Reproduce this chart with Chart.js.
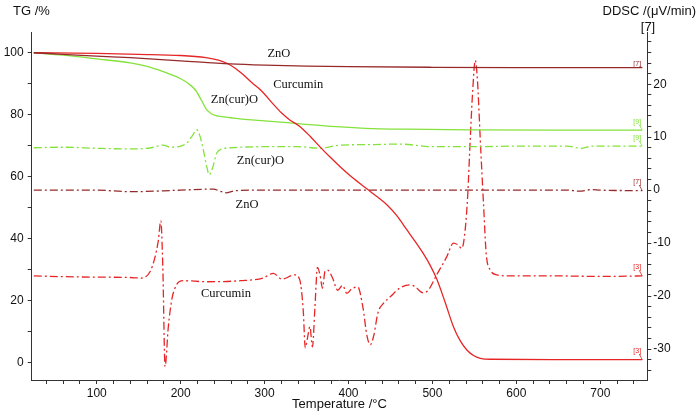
<!DOCTYPE html>
<html>
<head>
<meta charset="utf-8">
<script src="https://cdn.jsdelivr.net/npm/chart.js@4"></script>
<style>
  html, body { margin: 0; padding: 0; background: #fff; }
  #wrap { width: 700px; height: 415px; }
</style>
</head>
<body>
<div id="wrap"><canvas id="c" width="700" height="415"></canvas></div>
<script>
// ---- Data (temperature °C, value) ----
const tgZnO = [[25,100],[60,99.5],[100,98.9],[140,98.4],[200,97.4],[259,96.4],[300,96.0],[350,95.7],[400,95.5],[500,95.3],[600,95.2],[750,95.2]];
const tgCurcumin = [[25,100],[100,99.8],[150,99.5],[200,99.1],[230,98.4],[245,97.6],[255,96.6],[265,95.0],[275,92.8],[285,90.3],[297,87.5],[310,83.5],[320,80.6],[330,78.3],[342,76.2],[355,72.8],[366,69.6],[378,66.3],[390,63.2],[405,59.6],[421,56.2],[435,53.3],[446,50.8],[458,47.2],[469,43.0],[480,38.8],[489,35.2],[497,31.5],[505,27.0],[515,19.5],[525,11.5],[533,7.0],[541,4.0],[549,2.2],[557,1.3],[570,1.0],[650,0.9],[750,0.9]];
const tgZnCurO = [[25,100],[60,99.2],[100,98.0],[140,96.7],[160,95.6],[175,94.3],[190,92.8],[200,91.6],[210,89.9],[218,87.8],[225,84.5],[231,81.6],[237,80.2],[245,79.5],[260,79.0],[280,78.4],[300,78.0],[340,77.1],[380,76.2],[420,75.6],[470,75.3],[550,75.1],[650,75.0],[750,75.0]];
const ddscZnCurO = [[25,8.0],[60,8.1],[100,7.9],[130,7.8],[150,7.8],[165,8.0],[179,8.5],[188,8.1],[200,8.3],[208,9.0],[214,10.3],[219,11.4],[223,10.2],[227,7.6],[231,4.5],[234,2.9],[238,4.2],[243,7.0],[250,7.8],[260,8.0],[300,8.2],[340,8.2],[366,7.9],[390,8.5],[430,8.6],[461,8.7],[500,8.2],[550,8.2],[600,8.3],[660,8.3],[678,7.9],[690,8.3],[750,8.3]];
const ddscZnO = [[25,0],[100,0],[140,-0.3],[200,0],[239,0.2],[247,-0.2],[255,-0.5],[265,-0.1],[300,0],[400,0],[500,0],[600,0],[660,0],[675,-0.2],[690,0.1],[700,0],[750,-0.1]];
const ddscCurcumin = [[25,-16.2],[80,-16.4],[140,-16.5],[152,-16.6],[163.5,-15.4],[169.5,-12.6],[173.5,-9.4],[176.3,-5.8],[178.7,-14.4],[181.4,-33.3],[185.3,-25.8],[189.4,-20.7],[195,-17.9],[203,-17.1],[231,-17.3],[271,-17.1],[298,-16.6],[310.5,-15.7],[320.5,-16.8],[336,-16.0],[342,-17.0],[346,-22.6],[348.5,-29.8],[351,-28],[354,-25.8],[357,-29.6],[360,-22],[363,-14.6],[366,-16],[369,-18.5],[372,-15.3],[375,-15.1],[381,-16.6],[387,-18.9],[393,-18.0],[398,-19.5],[404,-18.6],[411,-18.3],[417,-22],[422,-27.5],[426,-29.2],[430,-27.5],[435,-23.2],[442,-21.3],[450,-20.1],[461,-18.5],[473,-17.9],[479,-18.2],[489,-19.4],[495,-18.9],[505,-16],[517,-12.6],[525,-10],[530,-10.3],[535,-11],[539,-7.5],[542,-1],[545,9.5],[548,18.9],[551,24.5],[553.6,20.8],[557,9.5],[561,-3.1],[564,-11.9],[569,-15.1],[577,-16],[590,-16.2],[650,-16.2],[700,-16.3],[750,-16.2]];

// ---- Tick values ----
const xTicks = []; for (let v = 40; v <= 740; v += 20) xTicks.push(v);
const yLeftTicks = []; for (let v = 0; v <= 100; v += 10) yLeftTicks.push(v);
const yRightTicks = []; for (let v = -34; v <= 28; v += 2) yRightTicks.push(v);

// ---- Text annotations (anchored in data space) ----
const curveLabels = [
  {text:'ZnO', t:317, v:99.8, axis:'y'},
  {text:'Curcumin', t:340, v:89.6, axis:'y'},
  {text:'Zn(cur)O', t:264, v:84.7, axis:'y'},
  {text:'Zn(cur)O', t:295, v:5.6, axis:'y2'},
  {text:'ZnO', t:279, v:-2.8, axis:'y2'},
  {text:'Curcumin', t:254, v:-19.5, axis:'y2'}
];
const endTags = ['[7]','[3]','[9]','[9]','[7]','[3]'];

const cZnO = '#962a2a', cCur = '#e62626', cGreen = '#84e23c';
const dashDot = [8,3,2,3];

const toXY = arr => arr.map(p => ({x:p[0], y:p[1]}));
function ds(data, color, axis, dashed) {
  return {data: toXY(data), borderColor: color, yAxisID: axis, borderWidth: 1.3,
          borderDash: dashed ? dashDot : [], pointRadius: 0, fill: false,
          cubicInterpolationMode: 'monotone'};
}

const labelPlugin = {
  id: 'labels',
  afterDraw(chart) {
    const ctx = chart.ctx, sx = chart.scales.x;
    ctx.save();
    ctx.fillStyle = '#111';
    ctx.font = '13px "Liberation Sans", Arial, sans-serif';
    ctx.textBaseline = 'middle';
    ctx.textAlign = 'left';
    ctx.fillText('TG /%', 13, 11);
    ctx.textAlign = 'right';
    ctx.fillText('DDSC /(\u03BCV/min)', 696, 11);
    ctx.textAlign = 'center';
    ctx.fillText('[7]', 648, 27);
    ctx.fillText('Temperature /\u00B0C', (chart.chartArea.left + chart.chartArea.right) / 2, 404);
    ctx.font = '12.5px "Liberation Serif", "Times New Roman", serif';
    curveLabels.forEach(l => {
      ctx.fillText(l.text, sx.getPixelForValue(l.t), chart.scales[l.axis].getPixelForValue(l.v));
    });
    ctx.font = '7px "Liberation Sans", Arial, sans-serif';
    chart.data.datasets.forEach((d, i) => {
      const meta = chart.getDatasetMeta(i);
      const last = meta.data[meta.data.length - 1];
      const off = i === 0 ? 4 : 8.5;
      ctx.fillStyle = d.borderColor;
      ctx.fillText(endTags[i], last.x - 5, last.y - off);
      ctx.strokeStyle = d.borderColor;
      ctx.lineWidth = 0.8;
      ctx.beginPath();
      ctx.moveTo(last.x - 3, last.y - off + 3);
      ctx.lineTo(last.x, last.y);
      ctx.stroke();
    });
    ctx.restore();
  }
};

const tickFont = {family: '"Liberation Sans", Arial, sans-serif', size: 12};

new Chart(document.getElementById('c'), {
  type: 'line',
  data: { datasets: [
    ds(tgZnO, cZnO, 'y', false),
    ds(tgCurcumin, cCur, 'y', false),
    ds(tgZnCurO, cGreen, 'y', false),
    ds(ddscZnCurO, cGreen, 'y2', true),
    ds(ddscZnO, cZnO, 'y2', true),
    ds(ddscCurcumin, cCur, 'y2', true)
  ]},
  options: {
    responsive: false, animation: false, devicePixelRatio: 1,
    layout: { padding: { top: 32.3, left: 0, right: 0, bottom: 0 } },
    plugins: { legend: { display: false }, tooltip: { enabled: false } },
    scales: {
      x: {
        type: 'linear', min: 22.5, max: 756,
        afterBuildTicks: s => { s.ticks = xTicks.map(v => ({value: v})); },
        afterFit: s => { s.height = 35; },
        ticks: { autoSkip: false, maxRotation: 0, padding: 2, color: '#111', font: tickFont,
                 callback: v => (v % 100 === 0 ? String(v) : '') },
        grid: { drawOnChartArea: false, drawTicks: true, tickLength: 4, color: '#333' },
        border: { display: true, color: '#333', width: 1 }
      },
      y: {
        position: 'left', min: -5.7, max: 106.6,
        afterBuildTicks: s => { s.ticks = yLeftTicks.map(v => ({value: v})); },
        afterFit: s => { s.width = 31.7; },
        ticks: { autoSkip: false, padding: 4, color: '#111', font: tickFont,
                 callback: v => (v % 20 === 0 ? String(v) : '') },
        grid: { drawOnChartArea: false, drawTicks: true, tickLength: 4, color: '#333' },
        border: { display: true, color: '#333', width: 1 }
      },
      y2: {
        position: 'right', min: -35.85, max: 29.8,
        afterBuildTicks: s => { s.ticks = yRightTicks.map(v => ({value: v})); },
        afterFit: s => { s.width = 52.7; },
        ticks: { autoSkip: false, padding: 2, color: '#111', font: tickFont,
                 callback: v => (v % 10 === 0 ? String(v) : '') },
        grid: { drawOnChartArea: false, drawTicks: true, tickLength: 4, color: '#333' },
        border: { display: true, color: '#333', width: 1 }
      }
    }
  },
  plugins: [labelPlugin]
});
</script>
</body>
</html>
